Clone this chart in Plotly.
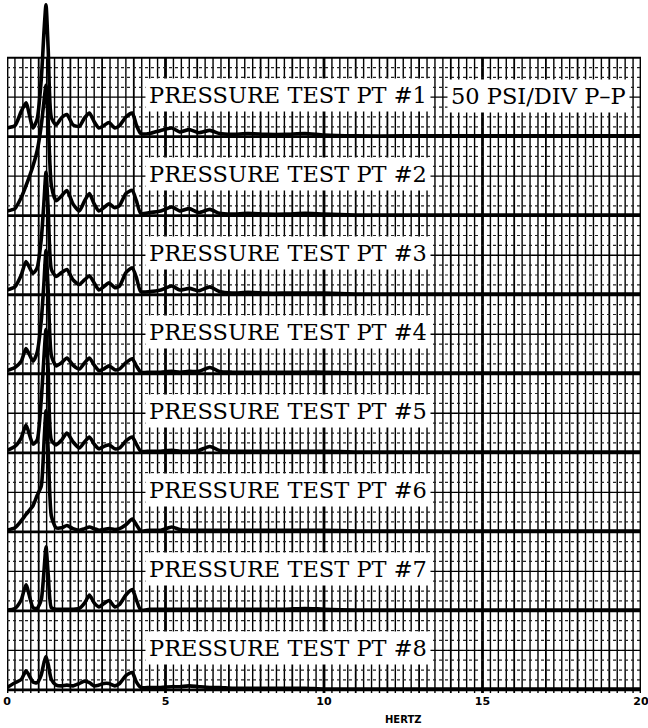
import plotly.graph_objects as go

# ---------------- data ----------------
FREQ_HZ = [0.0, 0.25, 0.45, 0.6, 0.82, 0.95, 1.08, 1.17, 1.23, 1.30, 1.40, 1.55,
           1.72, 1.89, 2.08, 2.28, 2.45, 2.60, 2.75, 2.90, 3.05, 3.22, 3.40, 3.55,
           3.75, 3.95, 4.08, 4.22, 4.5, 4.85, 5.2, 5.45, 5.75, 6.05, 6.4, 6.7,
           7.1, 7.6, 8.2, 8.8, 9.4, 10.0, 11.0, 12.5, 14.0, 15.5, 17.0, 18.5, 20.0]

# amplitudes in divisions above each trace's own baseline
PT1 = [0.11, 0.14, 0.32, 0.43, 0.11, 0.22, 0.72, 1.35, 1.67, 1.10, 0.24, 0.15,
       0.24, 0.28, 0.15, 0.13, 0.24, 0.30, 0.19, 0.11, 0.14, 0.18, 0.11, 0.14,
       0.25, 0.30, 0.15, 0.04, 0.04, 0.08, 0.11, 0.06, 0.09, 0.05, 0.08, 0.04,
       0.03, 0.04, 0.03, 0.03, 0.04, 0.02, 0.01, 0.01, 0.01, 0.01, 0.01, 0.01, 0.01]
PT2 = [0.06, 0.09, 0.23, 0.38, 0.63, 0.82, 1.14, 1.46, 1.65, 1.20, 0.38, 0.19,
       0.25, 0.32, 0.15, 0.06, 0.19, 0.28, 0.15, 0.06, 0.10, 0.15, 0.10, 0.13,
       0.28, 0.32, 0.19, 0.03, 0.04, 0.06, 0.11, 0.06, 0.09, 0.04, 0.08, 0.03,
       0.02, 0.03, 0.02, 0.02, 0.03, 0.02, 0.01, 0.01, 0.01, 0.01, 0.01, 0.01, 0.01]
PT3 = [0.06, 0.10, 0.25, 0.42, 0.27, 0.34, 0.70, 1.20, 1.55, 1.08, 0.32, 0.23,
       0.28, 0.32, 0.19, 0.13, 0.19, 0.24, 0.15, 0.06, 0.10, 0.15, 0.09, 0.11,
       0.28, 0.34, 0.22, 0.04, 0.04, 0.06, 0.11, 0.06, 0.08, 0.05, 0.10, 0.04,
       0.02, 0.03, 0.02, 0.02, 0.02, 0.02, 0.01, 0.01, 0.01, 0.01, 0.01, 0.01, 0.01]
PT4 = [0.04, 0.08, 0.16, 0.32, 0.16, 0.27, 0.67, 1.18, 1.56, 1.05, 0.23, 0.10,
       0.14, 0.20, 0.11, 0.06, 0.14, 0.20, 0.11, 0.04, 0.06, 0.10, 0.05, 0.06,
       0.14, 0.19, 0.10, 0.02, 0.02, 0.02, 0.03, 0.02, 0.03, 0.03, 0.08, 0.03,
       0.02, 0.02, 0.02, 0.02, 0.02, 0.02, 0.01, 0.01, 0.01, 0.01, 0.01, 0.01, 0.01]
PT5 = [0.03, 0.08, 0.19, 0.35, 0.11, 0.16, 0.67, 1.24, 1.56, 1.05, 0.16, 0.10,
       0.16, 0.25, 0.14, 0.06, 0.14, 0.20, 0.11, 0.05, 0.08, 0.10, 0.05, 0.06,
       0.15, 0.20, 0.11, 0.02, 0.02, 0.02, 0.03, 0.02, 0.02, 0.03, 0.08, 0.03,
       0.02, 0.02, 0.02, 0.02, 0.02, 0.02, 0.01, 0.01, 0.01, 0.01, 0.01, 0.01, 0.01]
PT6 = [0.02, 0.05, 0.14, 0.22, 0.33, 0.46, 0.58, 1.15, 1.53, 1.03, 0.20, 0.05,
       0.05, 0.08, 0.04, 0.02, 0.04, 0.06, 0.04, 0.02, 0.03, 0.04, 0.03, 0.04,
       0.09, 0.16, 0.09, 0.01, 0.02, 0.02, 0.06, 0.03, 0.02, 0.02, 0.02, 0.02,
       0.02, 0.02, 0.02, 0.02, 0.02, 0.02, 0.01, 0.01, 0.01, 0.01, 0.01, 0.01, 0.01]
PT7 = [0.01, 0.03, 0.14, 0.33, 0.04, 0.03, 0.14, 0.52, 0.81, 0.46, 0.04, 0.02,
       0.02, 0.02, 0.02, 0.03, 0.10, 0.20, 0.10, 0.05, 0.09, 0.13, 0.05, 0.08,
       0.20, 0.27, 0.14, 0.01, 0.02, 0.02, 0.02, 0.02, 0.02, 0.02, 0.02, 0.02,
       0.02, 0.02, 0.02, 0.02, 0.03, 0.02, 0.01, 0.01, 0.01, 0.01, 0.01, 0.01, 0.01]
PT8 = [0.03, 0.09, 0.13, 0.24, 0.10, 0.09, 0.19, 0.35, 0.42, 0.32, 0.13, 0.06,
       0.05, 0.06, 0.05, 0.08, 0.11, 0.09, 0.05, 0.06, 0.08, 0.08, 0.05, 0.08,
       0.18, 0.22, 0.10, 0.03, 0.03, 0.03, 0.04, 0.04, 0.05, 0.04, 0.03, 0.03,
       0.02, 0.02, 0.02, 0.02, 0.02, 0.01, 0.01, 0.01, 0.01, 0.01, 0.01, 0.01, 0.01]

TRACES = [PT1, PT2, PT3, PT4, PT5, PT6, PT7, PT8]
LABELS = ["PRESSURE TEST PT #1", "PRESSURE TEST PT #2", "PRESSURE TEST PT #3",
          "PRESSURE TEST PT #4", "PRESSURE TEST PT #5", "PRESSURE TEST PT #6",
          "PRESSURE TEST PT #7", "PRESSURE TEST PT #8"]
SCALE_NOTE = "50 PSI/DIV P\u2013P"
TICK_VALS = [0, 5, 10, 15, 20]
TICK_TEXT = ["0", "5", "10", "15", "20"]
AXIS_TITLE = "HERTZ"

# ---------------- figure ----------------
n = len(TRACES)
X_MAX = 20
fig = go.Figure()
for i, amps in enumerate(TRACES):
    base = n - 1 - i
    fig.add_trace(go.Scatter(
        x=FREQ_HZ, y=[base + a for a in amps], mode="lines",
        line=dict(color="black", width=3.6, shape="spline", smoothing=0.6),
        hoverinfo="skip", showlegend=False, cliponaxis=False))

shapes = []
# vertical grid every 0.25 Hz
for j in range(int(X_MAX / 0.25) + 1):
    xv = j * 0.25
    if j % 20 == 0:
        w = 2.8
    elif j % 4 == 0:
        w = 1.8
    else:
        w = 1.4
    shapes.append(dict(type="line", xref="x", yref="y", x0=xv, x1=xv, y0=-0.04, y1=n,
                       line=dict(color="black", width=w), layer="below"))
# horizontal grid
for k in range(n):
    for f in [0.125, 0.25, 0.375, 0.625, 0.75, 0.875]:
        shapes.append(dict(type="line", xref="x", yref="y", x0=0, x1=X_MAX, y0=k + f, y1=k + f,
                           line=dict(color="#222", width=1.2, dash="dot"), layer="below"))
    shapes.append(dict(type="line", xref="x", yref="y", x0=0, x1=X_MAX, y0=k + 0.5, y1=k + 0.5,
                       line=dict(color="black", width=1.3), layer="below"))
for k in range(n + 1):
    shapes.append(dict(type="line", xref="x", yref="y", x0=0, x1=X_MAX, y0=k, y1=k,
                       line=dict(color="black", width=2.8 if k < n else 2.0), layer="below"))

annotations = []
for i, lab in enumerate(LABELS):
    base = n - 1 - i
    annotations.append(dict(x=8.85, y=base + 0.53, xref="x", yref="y", text=lab,
                            showarrow=False, bgcolor="white", borderpad=3,
                            font=dict(family="DejaVu Serif", size=22.5, color="black")))
annotations.append(dict(x=16.78, y=n - 1 + 0.51, xref="x", yref="y", text=SCALE_NOTE,
                        showarrow=False, bgcolor="white", borderpad=3,
                        font=dict(family="DejaVu Serif", size=22.5, color="black")))
annotations.append(dict(x=12.5, y=0, xref="x", yref="paper", yanchor="top", yshift=-19,
                        text="<b>" + AXIS_TITLE + "</b>", showarrow=False,
                        font=dict(family="DejaVu Sans", size=10, color="black")))

fig.update_layout(
    width=648, height=728,
    margin=dict(l=7, r=7, t=0, b=35, autoexpand=False),
    paper_bgcolor="white", plot_bgcolor="white",
    shapes=shapes, annotations=annotations,
    xaxis=dict(range=[0, X_MAX], showgrid=False, zeroline=False, showline=False,
               automargin=False, ticklabeloverflow="allow",
               tickvals=TICK_VALS, ticktext=["<b>" + t + "</b>" for t in TICK_TEXT],
               ticks="", tickfont=dict(family="DejaVu Sans", size=11, color="black")),
    yaxis=dict(range=[-0.04, 8.73], visible=False, showgrid=False, zeroline=False,
               automargin=False),
)

fig.write_html("out.html", config={"displayModeBar": False},
               post_script="document.body.style.margin='0px';document.body.style.overflow='hidden';")
